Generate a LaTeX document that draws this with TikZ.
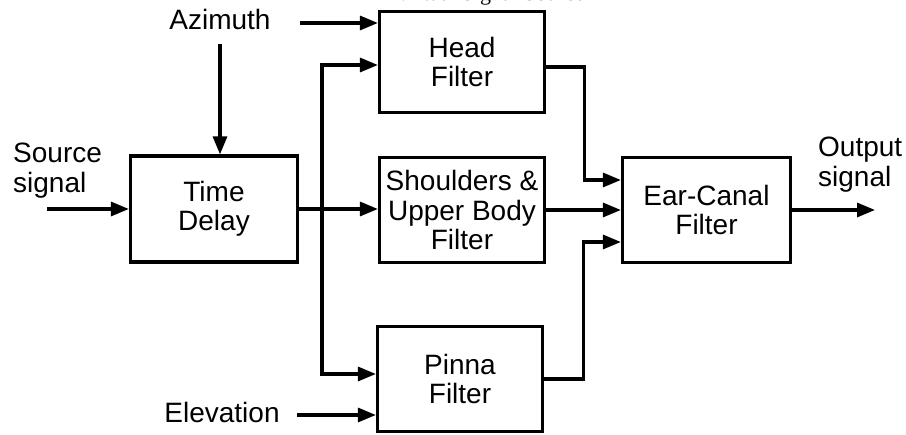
\documentclass[tikz,border=0pt]{standalone}
\usepackage{fontspec}
\setmainfont{Liberation Sans}
\newfontfamily\serifcap{Liberation Serif}
\usetikzlibrary{arrows.meta}
\newcommand\blockfont{\fontsize{28}{29.5}\selectfont}
\begin{document}
\begin{tikzpicture}[x=1pt,y=-1pt,
  box/.style={draw, line width=3.2pt, inner sep=0pt, align=center, font=\blockfont},
  lbl/.style={inner sep=0pt, font=\blockfont},
  wire/.style={line width=3.2pt},
  arr/.style={wire, -{Triangle[length=18pt,width=14pt]}}]
\useasboundingbox (0,0) rectangle (906,435);

% caption line running off the top edge
\node[font=\serifcap\fontsize{22}{24}\selectfont, anchor=base] (cap) at (490,1) {Virtual Signal Source};

% processing blocks
\node[box, minimum width=167pt, minimum height=106pt] (td)   at (214,209)   {Time\\Delay};
\node[box, minimum width=165pt, minimum height=101pt] (head) at (462,62)    {Head\\Filter};
\node[box, minimum width=165pt, minimum height=105pt] (sh)   at (462,210)   {Shoulders \&\\Upper Body\\Filter};
\node[box, minimum width=165pt, minimum height=105pt] (pin)  at (460,379)   {Pinna\\Filter};
\node[box, minimum width=168pt, minimum height=105pt] (ear)  at (706.5,210) {Ear-Canal\\Filter};

% input / output labels
\node[lbl, anchor=base] (az) at (220,30) {Azimuth};
\node[lbl, anchor=north west, align=left] (src) at (13,143) {Source\\signal};
\node[lbl, anchor=north west, align=left] (out) at (818,137) {Output\\signal};
\node[lbl, anchor=base] (elev) at (222,423) {Elevation};

% free ends of the input and output lines
\coordinate (srcin) at (47,209);
\coordinate (azh) at (300,23);
\coordinate (elh) at (297,415);
\coordinate (bus) at (322,209);
\coordinate (outend) at (875,210);

% inputs
\draw[arr] (srcin) -- (srcin -| td.west);
\draw[arr] ([yshift=-14pt]az.south) -- (az.south |- td.north);
\draw[arr] (azh) -- (azh -| head.west);
\draw[arr] (elh) -- (elh -| pin.west);

% delayed signal fanned out to the three filters
\draw[arr] (td.east) -- (td.east -| sh.west);
\draw[arr] (bus) |- ([yshift=-3pt]head.west);
\draw[arr] (bus) |- ([yshift=5pt]pin.west);

% filters into the ear canal
\draw[arr] ([yshift=-5pt]head.east) -- ++(38,0) |- ([yshift=30pt]ear.west);
\draw[arr] (sh.east) -- (sh.east -| ear.west);
\draw[arr] (pin.east) -- ++(39,0) |- ([yshift=-32pt]ear.west);

% output
\draw[arr] (ear.east) -- (outend);
\end{tikzpicture}
\end{document}
